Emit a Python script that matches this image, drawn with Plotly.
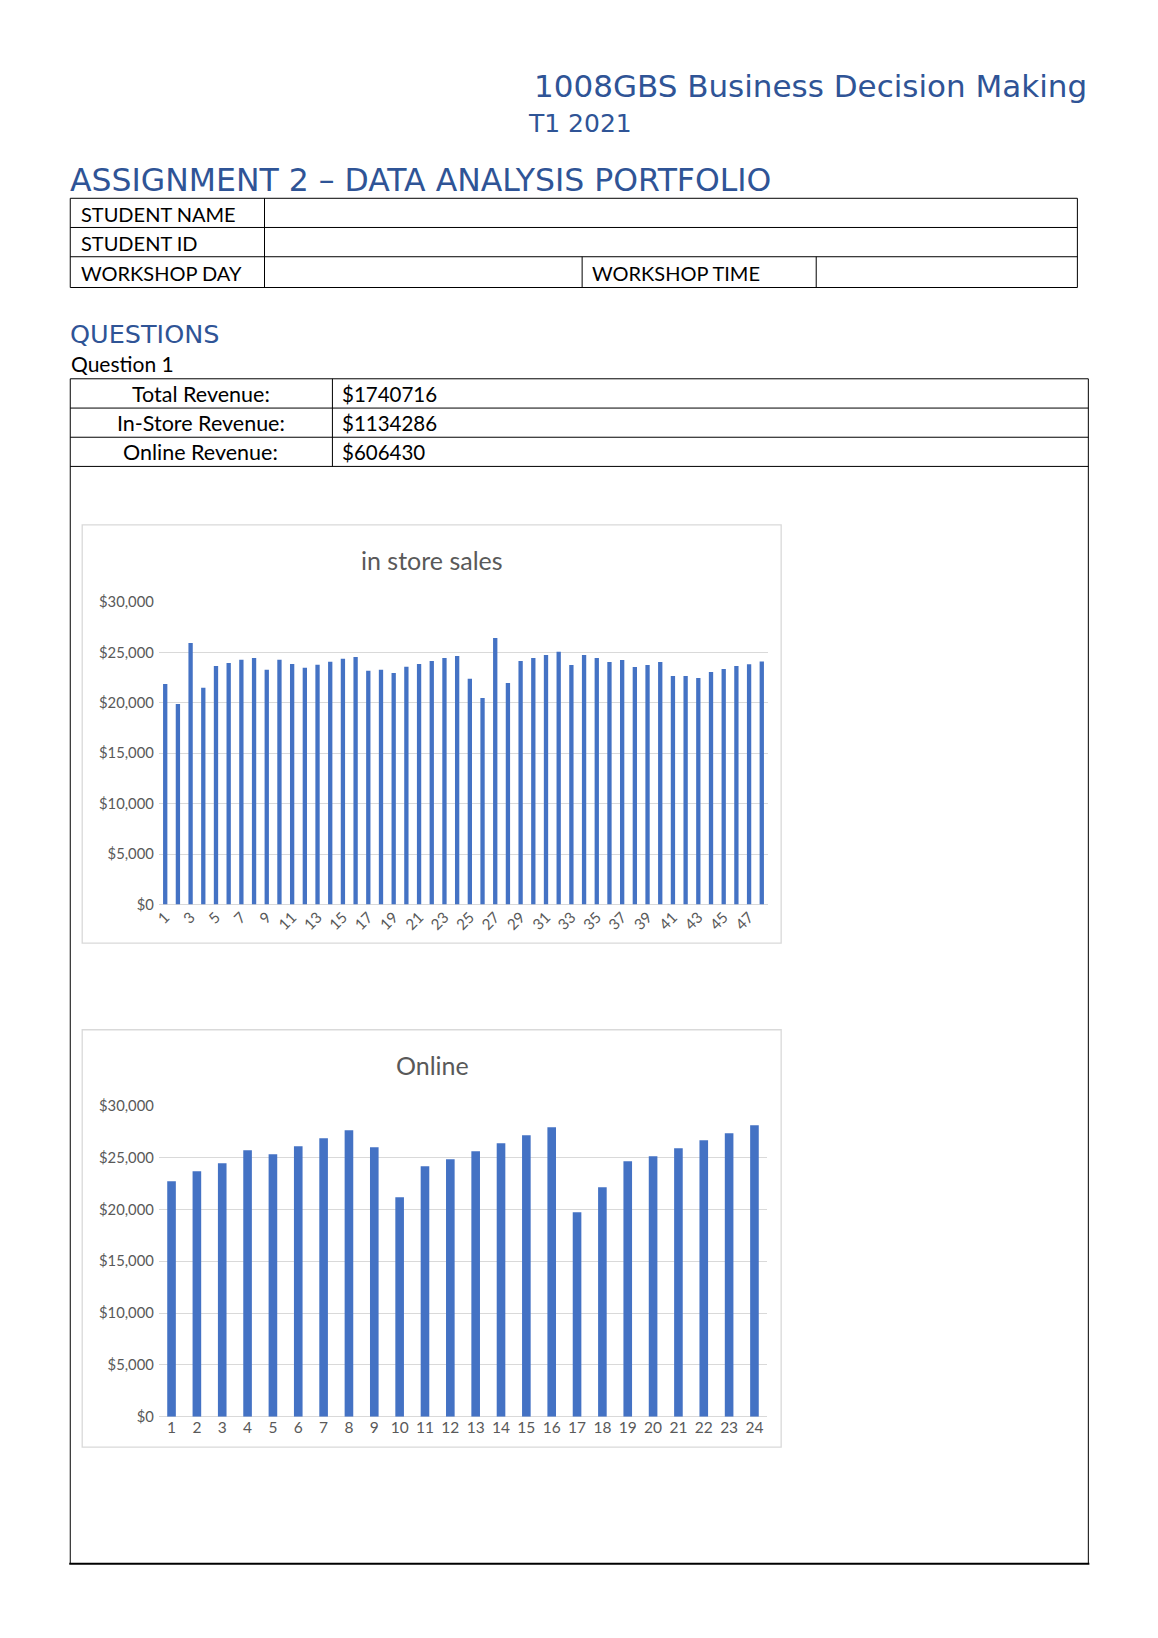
import plotly.graph_objects as go

W, H = 1158, 1638

# ---------------- data ----------------
instore_periods = list(range(1, 49))
instore_sales = [21850, 19870, 25930, 21490, 23640, 23940, 24270, 24440, 23280, 24270,
                 23840, 23480, 23770, 24070, 24370, 24540, 23180, 23280, 22950, 23580,
                 23840, 24140, 24440, 24640, 22380, 20460, 26420, 21950, 24140, 24440,
                 24740, 25070, 23740, 24740, 24440, 24040, 24240, 23540, 23740, 24040,
                 22650, 22650, 22450, 23050, 23340, 23640, 23820, 24080]
instore_ticks = list(range(1, 49, 2))

online_periods = list(range(1, 25))
online_sales = [22710, 23680, 24450, 25710, 25320, 26100, 26870, 27640, 26000, 21170,
                24160, 24840, 25610, 26390, 27160, 27930, 19720, 22130, 24650, 25130,
                25900, 26680, 27350, 28120]

revenue_labels = ["Total Revenue:", "In-Store Revenue:", "Online Revenue:"]
revenue_values = ["$1740716", "$1134286", "$606430"]

student_labels = ["STUDENT NAME", "STUDENT ID", "WORKSHOP DAY"]

# ---------------- helpers ----------------
def px(x):
    return x / W

def py(y):
    return 1 - y / H

BLUE_H = "#2F5496"
BAR = "#4472C4"
GRID = "#D9D9D9"
TXT = "#595959"
BODY_FONT = "Lato"
HEAD_FONT = "DejaVu Sans"

fig = go.Figure()

fig.add_trace(go.Bar(x=instore_periods, y=instore_sales, marker_color=BAR,
                     marker_line_width=0, xaxis="x", yaxis="y", showlegend=False))
fig.add_trace(go.Bar(x=online_periods, y=online_sales, marker_color=BAR,
                     marker_line_width=0, xaxis="x2", yaxis="y2", showlegend=False))

shapes = []
annotations = []

def line(x0, y0, x1, y1, w=1, color="black"):
    shapes.append(dict(type="line", xref="paper", yref="paper",
                       x0=px(x0), y0=py(y0), x1=px(x1), y1=py(y1),
                       line=dict(color=color, width=w)))

def text(t, x, y, size, color="black", family=BODY_FONT, xanchor="left", yanchor="middle"):
    annotations.append(dict(text=t, x=px(x), y=py(y), xref="paper", yref="paper",
                            xanchor=xanchor, yanchor=yanchor, showarrow=False,
                            font=dict(size=size, color=color, family=family)))

# header
text("1008GBS Business Decision Making", 521, 68.5, 31, BLUE_H, HEAD_FONT)
text("T1 2021", 515, 106.5, 25, BLUE_H, HEAD_FONT)
text("ASSIGNMENT 2 \u2013 DATA ANALYSIS PORTFOLIO", 55, 163.5, 31.5, BLUE_H, HEAD_FONT)

# student table
L, R1, R2 = 57.5, 1069, 1080
t1_rows = [182.3, 211.8, 241.4, 272.5]
for yy in t1_rows:
    line(L, yy, R1, yy)
line(L, t1_rows[0], L, t1_rows[-1])
line(R1, t1_rows[0], R1, t1_rows[-1])
line(252.6, t1_rows[0], 252.6, t1_rows[-1])
line(571.6, t1_rows[2], 571.6, t1_rows[3])
line(806.7, t1_rows[2], 806.7, t1_rows[3])
for i, lab in enumerate(student_labels):
    text(lab, 66, (t1_rows[i] + t1_rows[i + 1]) / 2 + 1, 20)
text("WORKSHOP TIME", 579, (t1_rows[2] + t1_rows[3]) / 2 + 1, 20)

# questions
text("QUESTIONS", 55, 319.5, 25.5, BLUE_H, HEAD_FONT)
text("Question 1", 56, 349.5, 21)

# revenue table + outer frame
t2_rows = [364.8, 394.4, 423.9, 453.4]
for yy in t2_rows:
    line(L, yy, R2, yy)
line(320.8, t2_rows[0], 320.8, t2_rows[-1])
line(L, t2_rows[0], L, 1563)
line(R2, t2_rows[0], R2, 1563)
line(L - 1, 1563, R2 + 1, 1563, w=2)
for i, lab in enumerate(revenue_labels):
    cy = (t2_rows[i] + t2_rows[i + 1]) / 2 + 0.5
    text(lab, 188.5, cy, 21.5, xanchor="center")
    text(revenue_values[i], 328.5, cy, 20.5)

# chart boxes
for (x0, y0, x1, y1) in [(69.5, 512.5, 771.5, 935.5), (69.5, 1023, 771.5, 1445)]:
    shapes.append(dict(type="rect", xref="paper", yref="paper",
                       x0=px(x0), y0=py(y0), x1=px(x1), y1=py(y1),
                       line=dict(color=GRID, width=1.3), fillcolor="rgba(0,0,0,0)"))

text("in store sales", 421, 548.3, 25, TXT, xanchor="center")
text("Online", 421, 1058.3, 25, TXT, xanchor="center")

axis_font = dict(family=BODY_FONT, size=14.8, color=TXT)

fig.update_layout(
    width=W, height=H,
    margin=dict(l=0, r=0, t=0, b=0),
    paper_bgcolor="white", plot_bgcolor="white",
    bargap=0.66,
    shapes=shapes, annotations=annotations,
    xaxis=dict(domain=[px(146.5), px(758.4)], anchor="y", range=[0.5, 48.5],
               tickmode="array", tickvals=instore_ticks, ticktext=[str(v) for v in instore_ticks],
               tickangle=-45, tickfont=dict(family=BODY_FONT, size=15.2, color=TXT),
               showgrid=False, zeroline=False, showline=False, ticks=""),
    yaxis=dict(domain=[py(896.3), py(590.4)], anchor="x", range=[0, 30000],
               dtick=5000, tickprefix="$", tickformat=",", tickfont=axis_font,
               showgrid=True, gridcolor=GRID, gridwidth=1.3, zeroline=True,
               zerolinecolor=GRID, zerolinewidth=1.3, showline=False, ticks="",
               ticklabelstandoff=4),
    xaxis2=dict(domain=[px(146.5), px(757.4)], anchor="y2", range=[0.5, 24.5],
                tickmode="array", tickvals=online_periods, ticktext=[str(v) for v in online_periods],
                tickangle=0, tickfont=dict(family=BODY_FONT, size=15.5, color=TXT),
                showgrid=False, zeroline=False, showline=False, ticks=""),
    yaxis2=dict(domain=[py(1414.2), py(1099.9)], anchor="x2", range=[0, 30000],
                dtick=5000, tickprefix="$", tickformat=",", tickfont=axis_font,
                showgrid=True, gridcolor=GRID, gridwidth=1.3, zeroline=True,
                zerolinecolor=GRID, zerolinewidth=1.3, showline=False, ticks="",
                ticklabelstandoff=4),
)

fig.write_html("out.html")
